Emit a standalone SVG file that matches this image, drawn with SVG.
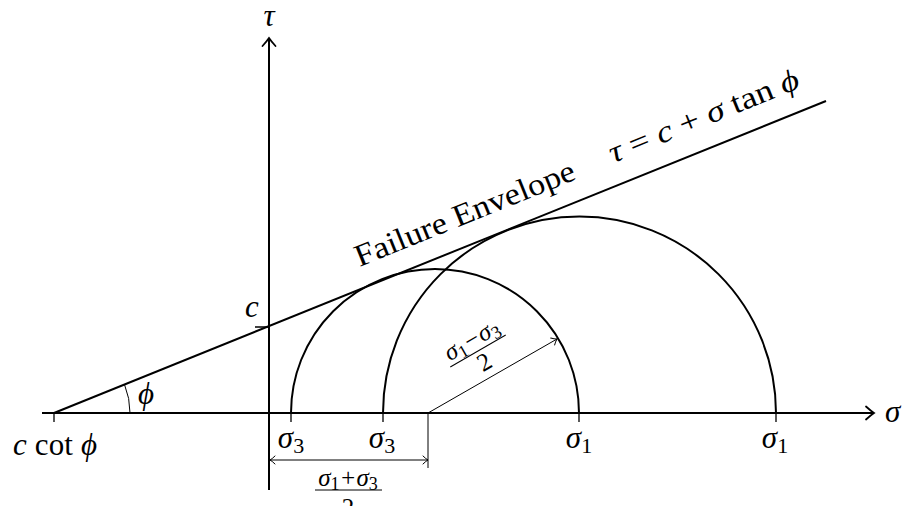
<svg xmlns="http://www.w3.org/2000/svg" width="903" height="506" viewBox="0 0 903 506">
<style>
.thick{stroke:#000;stroke-width:2;fill:none}
.thin{stroke:#000;stroke-width:1;fill:none}
.tick{stroke:#000;stroke-width:1.3;fill:none}
text{font-family:"Liberation Serif","DejaVu Serif",serif;fill:#000;font-size:31px}
.m{font-style:italic}
.s{font-size:22px;font-style:normal}
.f{font-size:25px}
.fs{font-size:18px;font-style:normal}
</style>
<defs>
<marker id="ax" markerUnits="userSpaceOnUse" markerWidth="20" markerHeight="20" viewBox="-10 -10 20 20" refX="0" refY="0" orient="auto">
<path d="M -8 -6.5 Q -3 -2 0 0 Q -3 2 -8 6.5" fill="none" stroke="#000" stroke-width="1.8" stroke-linecap="round"/>
</marker>
<marker id="ar" markerUnits="userSpaceOnUse" markerWidth="12" markerHeight="12" viewBox="-6 -6 12 12" refX="0" refY="0" orient="auto-start-reverse">
<path d="M -5 -4 Q -2 -1 0 0 Q -2 1 -5 4" fill="none" stroke="#000" stroke-width="1" stroke-linecap="round"/>
</marker>
</defs>
<g id="axes">
<line class="thick" x1="42" y1="413" x2="874" y2="413" marker-end="url(#ax)"/>
<line class="thick" x1="269" y1="490" x2="269" y2="38" marker-end="url(#ax)"/>
<path class="tick" d="M54 413V422M291 413V422M383 413V422M579 413V422M776 413V422M255 327H269"/>
<text class="m" x="269" y="26" text-anchor="middle" font-size="29">τ</text>
<text class="m" x="885" y="422">σ</text>
</g>
<g id="circle-small"><path class="thick" d="M291 413A144 144 0 0 1 579 413"/></g>
<g id="circle-large"><path class="thick" d="M383 413A196.5 196.5 0 0 1 776 413"/></g>
<g id="envelope">
<path class="thick" d="M54 413L826 101"/>
<path class="thin" d="M130 413A76 76 0 0 0 124.5 384.5"/>
<g transform="translate(54 413) rotate(-22)">
<text x="338" y="-21" font-size="31" textLength="235" lengthAdjust="spacingAndGlyphs">Failure Envelope</text>
<text x="612" y="-22" font-size="31" textLength="203" lengthAdjust="spacingAndGlyphs"><tspan class="m">τ</tspan> = <tspan class="m">c</tspan> + <tspan class="m">σ</tspan> tan <tspan class="m">ϕ</tspan></text>
</g>
</g>
<g id="labels">
<text x="55" y="455" text-anchor="middle" textLength="84" lengthAdjust="spacing"><tspan class="m">c</tspan> cot <tspan class="m">ϕ</tspan></text>
<text class="m" x="146" y="404" text-anchor="middle">ϕ</text>
<text class="m" x="252" y="317" text-anchor="middle">c</text>
<text class="m" x="291" y="448" text-anchor="middle">σ<tspan class="s" dy="5">3</tspan></text>
<text class="m" x="382" y="448" text-anchor="middle">σ<tspan class="s" dy="5">3</tspan></text>
<text class="m" x="579" y="448" text-anchor="middle">σ<tspan class="s" dy="5">1</tspan></text>
<text class="m" x="775" y="448" text-anchor="middle">σ<tspan class="s" dy="5">1</tspan></text>
</g>
<g id="connectors">
<line class="thin" x1="428" y1="413" x2="557" y2="339" marker-end="url(#ar)"/>
<line class="thin" x1="270" y1="460" x2="428" y2="460" marker-start="url(#ar)" marker-end="url(#ar)"/>
<line class="thin" x1="428" y1="413" x2="428" y2="468"/>
</g>
<g id="radius-label" transform="translate(478 351) rotate(-30)">
<line class="thin" x1="-32" y1="0" x2="32" y2="0"/>
<text class="m f" x="0" y="-5" text-anchor="middle">σ<tspan class="fs" dy="4">1</tspan><tspan dy="-4">−σ</tspan><tspan class="fs" dy="4">3</tspan></text>
<text class="f" x="0" y="21" text-anchor="middle">2</text>
</g>
<g id="center-label">
<line class="thin" x1="315" y1="490" x2="382" y2="490"/>
<text class="m f" x="348" y="486" text-anchor="middle">σ<tspan class="fs" dy="4">1</tspan><tspan dy="-4">+σ</tspan><tspan class="fs" dy="4">3</tspan></text>
<text class="f" x="348" y="516" text-anchor="middle">2</text>
</g>
</svg>
